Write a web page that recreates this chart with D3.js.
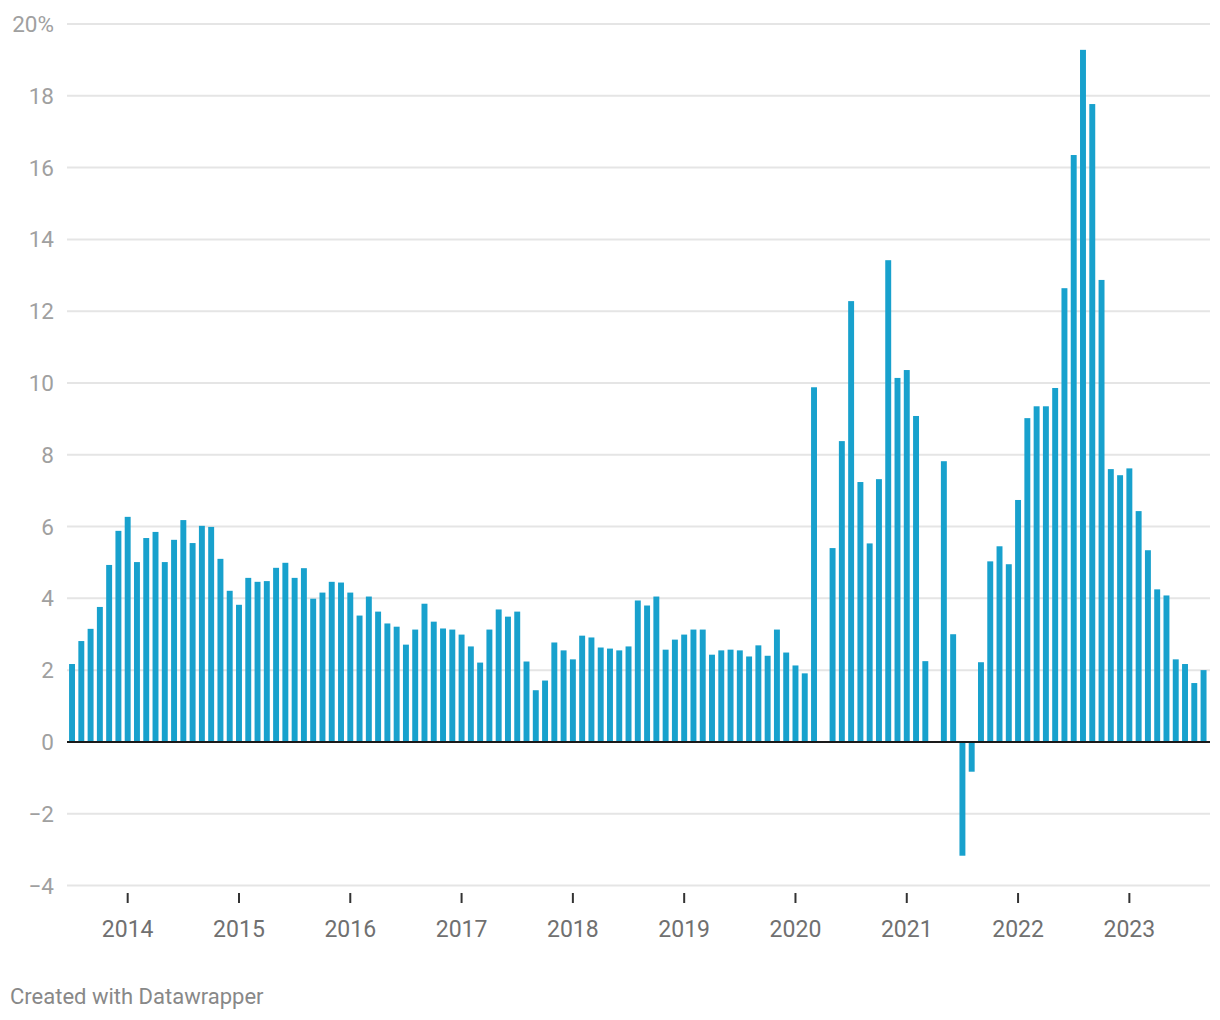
<!DOCTYPE html>
<html>
<head>
<meta charset="utf-8">
<script src="https://cdn.jsdelivr.net/npm/d3@7"></script>
<style>
  html, body { margin: 0; padding: 0; background: #fff; }
  svg { display: block; font-family: Roboto, "Noto Sans", sans-serif; }
</style>
</head>
<body>
<svg id="chart" width="1220" height="1020"></svg>
<script>
// Monthly categories, July 2013 – September 2023
const months = [
  "2013-07","2013-08","2013-09","2013-10","2013-11","2013-12",
  "2014-01","2014-02","2014-03","2014-04","2014-05","2014-06","2014-07","2014-08","2014-09","2014-10","2014-11","2014-12",
  "2015-01","2015-02","2015-03","2015-04","2015-05","2015-06","2015-07","2015-08","2015-09","2015-10","2015-11","2015-12",
  "2016-01","2016-02","2016-03","2016-04","2016-05","2016-06","2016-07","2016-08","2016-09","2016-10","2016-11","2016-12",
  "2017-01","2017-02","2017-03","2017-04","2017-05","2017-06","2017-07","2017-08","2017-09","2017-10","2017-11","2017-12",
  "2018-01","2018-02","2018-03","2018-04","2018-05","2018-06","2018-07","2018-08","2018-09","2018-10","2018-11","2018-12",
  "2019-01","2019-02","2019-03","2019-04","2019-05","2019-06","2019-07","2019-08","2019-09","2019-10","2019-11","2019-12",
  "2020-01","2020-02","2020-03","2020-04","2020-05","2020-06","2020-07","2020-08","2020-09","2020-10","2020-11","2020-12",
  "2021-01","2021-02","2021-03","2021-04","2021-05","2021-06","2021-07","2021-08","2021-09","2021-10","2021-11","2021-12",
  "2022-01","2022-02","2022-03","2022-04","2022-05","2022-06","2022-07","2022-08","2022-09","2022-10","2022-11","2022-12",
  "2023-01","2023-02","2023-03","2023-04","2023-05","2023-06","2023-07","2023-08","2023-09"
];

// Year-over-year change, %
const values = [
  2.17, 2.81, 3.15, 3.76, 4.93, 5.88,
  6.27, 5.01, 5.68, 5.85, 5.01, 5.63, 6.18, 5.54, 6.02, 5.99, 5.10, 4.21,
  3.82, 4.57, 4.46, 4.48, 4.85, 4.99, 4.57, 4.84, 3.99, 4.16, 4.46, 4.44,
  4.16, 3.52, 4.05, 3.63, 3.30, 3.21, 2.71, 3.13, 3.85, 3.35, 3.16, 3.13,
  2.99, 2.66, 2.21, 3.13, 3.69, 3.49, 3.63, 2.24, 1.44, 1.71, 2.77, 2.55,
  2.30, 2.96, 2.91, 2.63, 2.60, 2.55, 2.66, 3.94, 3.80, 4.05, 2.57, 2.85,
  2.99, 3.13, 3.13, 2.43, 2.55, 2.57, 2.55, 2.38, 2.69, 2.40, 3.13, 2.49,
  2.13, 1.91, 9.88, null, 5.40, 8.38, 12.28, 7.24, 5.53, 7.32, 13.42, 10.14,
  10.36, 9.08, 2.25, null, 7.82, 3.00, -3.17, -0.83, 2.22, 5.03, 5.45, 4.95,
  6.74, 9.02, 9.35, 9.35, 9.86, 12.64, 16.35, 19.28, 17.77, 12.87, 7.60, 7.43,
  7.62, 6.43, 5.34, 4.25, 4.08, 2.30, 2.17, 1.64, 2.00
];

const yTicks = [-4, -2, 0, 2, 4, 6, 8, 10, 12, 14, 16, 18, 20];
const xTickMonths = ["2014-01","2015-01","2016-01","2017-01","2018-01","2019-01","2020-01","2021-01","2022-01","2023-01"];
const xTickLabels = ["2014","2015","2016","2017","2018","2019","2020","2021","2022","2023"];
const credit = "Created with Datawrapper";

const svg = d3.select("#chart");
const left = 67, right = 1209;

const x = d3.scaleBand().domain(months).range([67.4, 1208.2]).paddingInner(0.36).paddingOuter(0.18);
const y = d3.scaleLinear().domain([-4, 20]).range([885.5, 24]);

// grid lines
const grid = svg.append("g");
grid.selectAll("line").data(yTicks.filter(d => d !== 0)).join("line")
  .attr("x1", left).attr("x2", right + 1)
  .attr("y1", d => y(d)).attr("y2", d => y(d))
  .attr("stroke", "#e5e5e5").attr("stroke-width", 2);

// y labels
svg.append("g").selectAll("text").data(yTicks).join("text")
  .attr("x", 54).attr("y", d => y(d))
  .attr("dy", "0.36em")
  .attr("text-anchor", "end")
  .attr("font-size", 22.5)
  .attr("fill", "#a0a0a0")
  .text(d => d === 20 ? "20%" : (d < 0 ? "\u2212" + Math.abs(d) : String(d)));

// bars
const data = months.map((m, i) => ({ m, v: values[i] })).filter(d => d.v !== null);
svg.append("g").selectAll("rect").data(data).join("rect")
  .attr("x", d => x(d.m))
  .attr("width", x.bandwidth())
  .attr("y", d => y(Math.max(0, d.v)))
  .attr("height", d => Math.abs(y(d.v) - y(0)))
  .attr("fill", "#18a1cd");

// zero line
svg.append("line")
  .attr("x1", left).attr("x2", right + 1)
  .attr("y1", y(0)).attr("y2", y(0))
  .attr("stroke", "#1a1a1a").attr("stroke-width", 2);

// x axis ticks and labels
const xg = svg.append("g");
xg.selectAll("line").data(xTickMonths).join("line")
  .attr("x1", d => x(d) + x.bandwidth() / 2).attr("x2", d => x(d) + x.bandwidth() / 2)
  .attr("y1", 893).attr("y2", 903)
  .attr("stroke", "#333").attr("stroke-width", 2);
xg.selectAll("text").data(xTickMonths).join("text")
  .attr("x", d => x(d) + x.bandwidth() / 2)
  .attr("y", 937)
  .attr("text-anchor", "middle")
  .attr("font-size", 23)
  .attr("fill", "#707070")
  .text((d, i) => xTickLabels[i]);

// credit
svg.append("text")
  .attr("x", 10).attr("y", 1004)
  .attr("font-size", 22)
  .attr("fill", "#888")
  .text(credit);
</script>
</body>
</html>
